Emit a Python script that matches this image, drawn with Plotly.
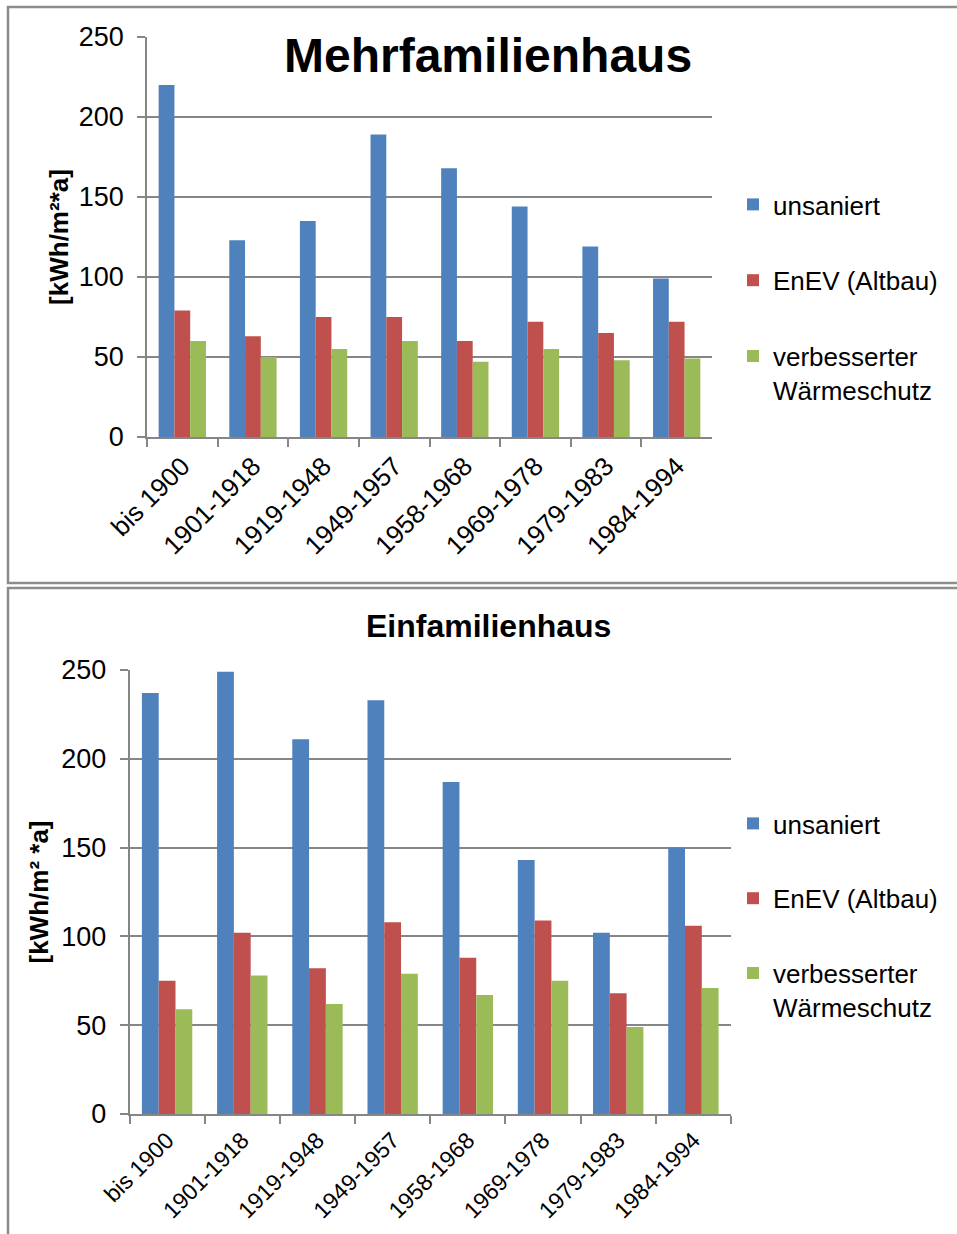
import plotly.graph_objects as go

W, H = 957, 1234

categories = ["bis 1900", "1901-1918", "1919-1948", "1949-1957",
              "1958-1968", "1969-1978", "1979-1983", "1984-1994"]
series_names = ["unsaniert", "EnEV (Altbau)", "verbesserter<br>Wärmeschutz"]
series_colors = ["#4F81BD", "#C0504D", "#9BBB59"]

mfh_unsaniert = [220, 123, 135, 189, 168, 144, 119, 99]
mfh_enev = [79, 63, 75, 75, 60, 72, 65, 72]
mfh_verbessert = [60, 50, 55, 60, 47, 55, 48, 49]

efh_unsaniert = [237, 249, 211, 233, 187, 143, 102, 150]
efh_enev = [75, 102, 82, 108, 88, 109, 68, 106]
efh_verbessert = [59, 78, 62, 79, 67, 75, 49, 71]

y_ticks = [0, 50, 100, 150, 200, 250]

FONT = "Liberation Sans, Arial, sans-serif"
GRID = "#868686"


def px_x(v):
    return v / W


def px_y(v):
    return 1 - v / H


fig = go.Figure()

top_series = [mfh_unsaniert, mfh_enev, mfh_verbessert]
bot_series = [efh_unsaniert, efh_enev, efh_verbessert]

for i, (name, col, vals) in enumerate(zip(series_names, series_colors, top_series)):
    fig.add_trace(go.Bar(x=categories, y=vals, name=name, marker_color=col,
                         marker_line_width=0, xaxis="x", yaxis="y",
                         legend="legend", legendgroup=f"t{i}"))
for i, (name, col, vals) in enumerate(zip(series_names, series_colors, bot_series)):
    fig.add_trace(go.Bar(x=categories, y=vals, name=name, marker_color=col,
                         marker_line_width=0, xaxis="x2", yaxis="y2",
                         legend="legend2", legendgroup=f"b{i}"))

axis_common_y = dict(range=[0, 250], tickvals=y_ticks, showgrid=True, gridcolor=GRID,
                     gridwidth=1.5, showline=True, linecolor=GRID, linewidth=1.5,
                     ticks="outside", ticklen=8, tickcolor=GRID, tickwidth=1.5,
                     tickfont=dict(family=FONT, size=27, color="black"),
                     ticklabelstandoff=8, zeroline=False, fixedrange=True,
                     automargin=False)
axis_common_x = dict(showline=True, linecolor=GRID, linewidth=1.5, ticks="outside",
                     ticklen=8, tickcolor=GRID, tickwidth=1.5, tickson="boundaries",
                     tickangle=-45, ticklabelstandoff=2, showgrid=False,
                     type="category", automargin=False, fixedrange=True)

fig.update_layout(
    width=W, height=H,
    margin=dict(l=0, r=0, t=0, b=0, autoexpand=False),
    paper_bgcolor="white", plot_bgcolor="white",
    barmode="group", bargap=0.33, bargroupgap=0,
    font=dict(family=FONT, size=26, color="black"),
    xaxis=dict(domain=[px_x(147), px_x(712)], anchor="y",
               tickfont=dict(family=FONT, size=26, color="black"), **axis_common_x),
    yaxis=dict(domain=[px_y(437), px_y(37)], anchor="x",
               title=dict(text="<b>[kWh/m²*a]</b>", standoff=3,
                          font=dict(family=FONT, size=26, color="black")),
               **axis_common_y),
    xaxis2=dict(domain=[px_x(129.5), px_x(731)], anchor="y2",
                tickfont=dict(family=FONT, size=23, color="black"), **axis_common_x),
    yaxis2=dict(domain=[px_y(1114), px_y(670)], anchor="x2",
                title=dict(text="<b>[kWh/m² *a]</b>", standoff=5,
                           font=dict(family=FONT, size=26, color="black")),
                **axis_common_y),
    legend=dict(x=px_x(733), xanchor="left", y=px_y(181), yanchor="top",
                font=dict(family=FONT, size=26, color="black"),
                tracegroupgap=39, valign="top", bgcolor="rgba(0,0,0,0)"),
    legend2=dict(x=px_x(733), xanchor="left", y=px_y(800), yanchor="top",
                 font=dict(family=FONT, size=26, color="black"),
                 tracegroupgap=38, valign="top", bgcolor="rgba(0,0,0,0)"),
    showlegend=True,
    annotations=[
        dict(text="<b>Mehrfamilienhaus</b>", x=px_x(488), y=px_y(56), xref="paper",
             yref="paper", xanchor="center", yanchor="middle", showarrow=False,
             font=dict(family=FONT, size=48, color="black")),
        dict(text="<b>Einfamilienhaus</b>", x=px_x(488), y=px_y(626), xref="paper",
             yref="paper", xanchor="center", yanchor="middle", showarrow=False,
             font=dict(family=FONT, size=32, color="black")),
    ],
    shapes=[
        dict(type="rect", xref="paper", yref="paper", x0=px_x(8), x1=1.05,
             y0=px_y(583), y1=px_y(7), line=dict(color="#8C8C8C", width=2.5)),
        dict(type="rect", xref="paper", yref="paper", x0=px_x(8), x1=1.05,
             y0=-0.05, y1=px_y(588), line=dict(color="#8C8C8C", width=2.5)),
    ],
)

fig.write_html("out.html", config={"displayModeBar": False},
               post_script="document.body.style.margin='0';")
